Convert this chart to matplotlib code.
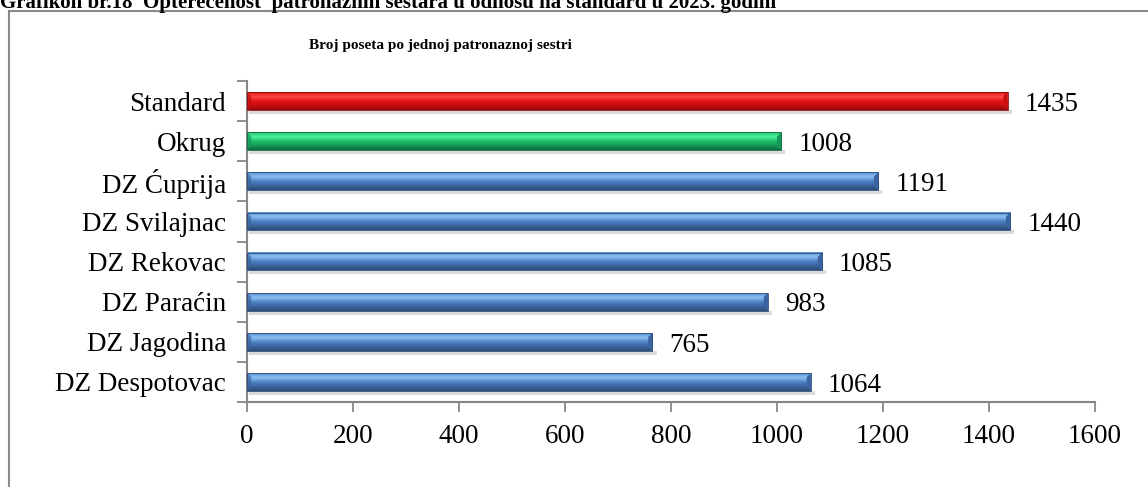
import numpy as np
import matplotlib.pyplot as plt
from matplotlib.colors import LinearSegmentedColormap
from matplotlib.patches import Rectangle, Polygon

# Visits per community nurse, bottom to top
categories = ["DZ Despotovac", "DZ Jagodina", "DZ Paraćin", "DZ Rekovac",
              "DZ Svilajnac", "DZ Ćuprija", "Okrug", "Standard"]
values = [1064, 765, 983, 1085, 1440, 1191, 1008, 1435]
kinds = ["dz", "dz", "dz", "dz", "dz", "dz", "okrug", "standard"]
x_ticks = [0, 200, 400, 600, 800, 1000, 1200, 1400, 1600]

# dark bottom -> base -> light top, for a shaded tube look
palettes = {
    "dz": ["#2c4c7a", "#3a65a0", "#4f82c4", "#8cc0f5", "#5a8ed2"],
    "okrug": ["#0f6b3a", "#15995a", "#1fbf6c", "#4cf59c", "#22c070"],
    "standard": ["#8f0a0a", "#c80e0e", "#e41414", "#ff4a4a", "#e01212"],
}

plt.rcParams["font.family"] = ["Liberation Serif", "DejaVu Serif"]

fig = plt.figure(figsize=(11.48, 4.87), dpi=100)
ax = fig.add_axes([247 / 1148, 1 - 402 / 487, (1095 - 247) / 1148, (402 - 81) / 487])

bar_h = 0.44
y = np.arange(len(categories))
for yi, v, k in zip(y, values, kinds):
    cmap = LinearSegmentedColormap.from_list(k, palettes[k])
    grad = np.linspace(0, 1, 64).reshape(-1, 1)
    lo, hi = yi - bar_h / 2, yi + bar_h / 2
    # soft shadow under the bar
    ax.add_patch(Rectangle((4, lo - 0.1), v + 4, 0.1,
                           color="#b0b0b0", alpha=0.45, lw=0, zorder=1))
    ax.imshow(grad, cmap=cmap, aspect="auto", origin="lower",
              extent=(0, v, lo, hi), zorder=2)
    # bevelled end caps
    bev = 8
    ax.add_patch(Polygon([(v - bev, lo + 0.1), (v, lo), (v, hi), (v - bev, hi - 0.1)],
                         closed=True, color=palettes[k][1], lw=0, zorder=3))
    ax.add_patch(Polygon([(0, lo), (bev, lo + 0.1), (bev, hi - 0.1), (0, hi)],
                         closed=True, color=palettes[k][1], alpha=0.7, lw=0, zorder=3))
    ax.add_patch(Rectangle((0, lo), v, bar_h, fill=False,
                           ec=palettes[k][0], lw=0.6, zorder=4))
    ax.text(v + 32, yi - 0.08, str(v), va="center", ha="left", fontsize=19.5)

ax.set_xlim(0, 1600)
ax.set_ylim(-0.5, len(categories) - 0.5)
ax.set_xticks(x_ticks)
ax.set_xticklabels([str(t) for t in x_ticks], fontsize=19.5)
ax.set_yticks(y)
ax.set_yticklabels(categories, fontsize=19.5)
ax.set_yticks(np.arange(-0.5, len(categories), 1), minor=True)
ax.tick_params(axis="y", which="major", length=0, pad=15)
ax.tick_params(axis="y", which="minor", length=7, color="#868686", width=1.3)
ax.tick_params(axis="x", length=7, color="#868686", width=1.3, pad=9)
for side in ["top", "right"]:
    ax.spines[side].set_visible(False)
for side in ["left", "bottom"]:
    ax.spines[side].set_color("#868686")
    ax.spines[side].set_linewidth(1.5)

# outer chart frame (open on right and bottom)
fig.add_artist(plt.Line2D([9 / 1148, 9 / 1148], [0, 1 - 11 / 487],
                          color="#8a8a8a", lw=1.5, transform=fig.transFigure))
fig.add_artist(plt.Line2D([9 / 1148, 1], [1 - 11 / 487, 1 - 11 / 487],
                          color="#8a8a8a", lw=1.5, transform=fig.transFigure))

fig.text(440 / 1148, 1 - 46 / 487, "Broj poseta po jednoj patronaznoj sestri",
         ha="center", va="center", fontsize=11, fontweight="bold")
fig.text(0, 1 - 8 / 487,
         "Grafikon br.18  Opterećenost  patronažnih sestara u odnosu na standard u 2023. godini",
         ha="left", va="baseline", fontsize=15, fontweight="bold")

fig.savefig("out.png", dpi=100)
